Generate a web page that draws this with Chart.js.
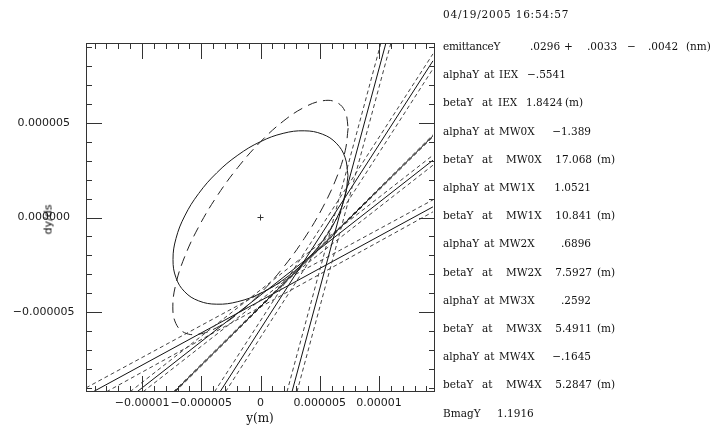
<!DOCTYPE html>
<html>
<head>
<meta charset="utf-8">
<script src="https://cdn.jsdelivr.net/npm/chart.js@4"></script>
<style>
  html, body { margin: 0; padding: 0; background: #fff; }
  #wrap { position: relative; width: 721px; height: 430px; overflow: hidden; }
  #plot { position: absolute; left: 0; top: 0; }
  .txt { position: absolute; white-space: pre; line-height: 14px; color: #111; }
  .panel { font: 10.5px "DejaVu Serif", serif; }
  .axis { font: 11px "DejaVu Sans", sans-serif; }
  .right { transform: translateX(-100%); }
</style>
</head>
<body>
<div id="wrap">
  <canvas id="plot" width="721" height="430"></canvas>
</div>
<script>
// y / dy/ds phase space at IEX, metres
const yRange = [-1.473e-5, 1.473e-5];
const ypRange = [-9.22e-6, 9.22e-6];
const xTickValues = [-1e-5, -5e-6, 0, 5e-6, 1e-5];
const xTickLabels = ['\u22120.00001', '\u22120.000005', '0', '0.000005', '0.00001'];
const yTickValues = [-5e-6, 0, 5e-6];
const yTickLabels = ['\u22120.000005', '0.000000', '0.000005'];

// fit results printed beside the plot
const stamp = '04/19/2005 16:54:57';
const emittance = [0.0296, 0.0033, 0.0042];   // value, +err, -err (nm)
const locations = ['IEX', 'MW0X', 'MW1X', 'MW2X', 'MW3X', 'MW4X'];
const alphaY = [-0.5541, -1.389, 1.0521, 0.6896, 0.2592, -0.1645];
const betaY = [1.8424, 17.068, 10.841, 7.5927, 5.4911, 5.2847];
const bmagY = 1.1916;

// measured ellipse (eps .0296 nm, alpha -.5541, beta 1.8424 m), [y, dy/ds]
const measuredEllipse = [
  [7.385e-6, 2.221e-6], [7.133e-6, 1.108e-6], [6.396e-6, -0.081e-6], [5.222e-6, -1.264e-6],
  [3.693e-6, -2.361e-6], [1.911e-6, -3.296e-6], [0, -4.008e-6], [-1.911e-6, -4.446e-6],
  [-3.693e-6, -4.581e-6], [-5.222e-6, -4.404e-6], [-6.396e-6, -3.927e-6], [-7.133e-6, -3.182e-6],
  [-7.385e-6, -2.221e-6], [-7.133e-6, -1.108e-6], [-6.396e-6, 0.081e-6], [-5.222e-6, 1.264e-6],
  [-3.693e-6, 2.361e-6], [-1.911e-6, 3.296e-6], [0, 4.008e-6], [1.911e-6, 4.446e-6],
  [3.693e-6, 4.581e-6], [5.222e-6, 4.404e-6], [6.396e-6, 3.927e-6], [7.133e-6, 3.182e-6],
  [7.385e-6, 2.221e-6]
];

// design ellipse, same emittance
const designEllipse = [
  [7.400e-6, 4.720e-6], [7.148e-6, 3.524e-6], [6.409e-6, 2.088e-6], [5.233e-6, 0.510e-6],
  [3.700e-6, -1.104e-6], [1.915e-6, -2.642e-6], [0, -4.000e-6], [-1.915e-6, -5.086e-6],
  [-3.700e-6, -5.824e-6], [-5.233e-6, -6.166e-6], [-6.409e-6, -6.088e-6], [-7.148e-6, -5.594e-6],
  [-7.400e-6, -4.720e-6], [-7.148e-6, -3.524e-6], [-6.409e-6, -2.088e-6], [-5.233e-6, -0.510e-6],
  [-3.700e-6, 1.104e-6], [-1.915e-6, 2.642e-6], [0, 4.000e-6], [1.915e-6, 5.086e-6],
  [3.700e-6, 5.824e-6], [5.233e-6, 6.166e-6], [6.409e-6, 6.088e-6], [7.148e-6, 5.594e-6],
  [7.400e-6, 4.720e-6]
];

const centre = [[0, 0]];

// wire-scanner lines mapped back to IEX: [low error, measured, high error]
const wireA = [
  [[2.236e-6, -9.21e-6], [10.169e-6, 9.226e-6]],
  [[2.658e-6, -9.21e-6], [10.591e-6, 9.226e-6]],
  [[3.080e-6, -9.21e-6], [11.013e-6, 9.226e-6]]
];
const wireB = [
  [[-3.882e-6, -9.21e-6], [14.557e-6, 8.645e-6]],
  [[-3.418e-6, -9.21e-6], [14.557e-6, 8.275e-6]],
  [[-2.954e-6, -9.21e-6], [14.557e-6, 7.853e-6]]
];
const wireC = [
  [[-7.354e-6, -9.21e-6], [14.557e-6, 4.368e-6]],
  [[-7.274e-6, -9.21e-6], [14.557e-6, 4.315e-6]],
  [[-7.194e-6, -9.21e-6], [14.557e-6, 4.262e-6]]
];
const wireD = [
  [[-11.013e-6, -9.21e-6], [14.557e-6, 3.290e-6]],
  [[-10.422e-6, -9.21e-6], [14.557e-6, 3.026e-6]],
  [[-9.916e-6, -9.21e-6], [14.557e-6, 2.762e-6]]
];
const wireE = [
  [[-14.726e-6, -9.000e-6], [14.557e-6, 0.932e-6]],
  [[-14.135e-6, -9.21e-6], [14.557e-6, 0.563e-6]],
  [[-13.004e-6, -9.21e-6], [14.557e-6, 0.298e-6]]
];

const ink = '#1a1a1a';
const toXY = pts => pts.map(p => ({ x: p[0], y: p[1] }));

const datasets = [
  { data: toXY(designEllipse), borderDash: [10, 6], tension: 0.4, borderColor: '#222' },
  { data: toXY(measuredEllipse), tension: 0.4 }
];
[wireA, wireB, wireC, wireD, wireE].forEach(w => {
  w.forEach((ln, i) => {
    datasets.push({
      data: toXY(ln),
      borderDash: i === 1 ? [] : [4, 3],
      borderColor: i === 1 ? '#111' : '#444'
    });
  });
});
datasets.forEach(d => {
  d.showLine = true;
  d.pointRadius = 0;
  d.borderColor = d.borderColor || ink;
  d.borderWidth = 1;
  d.tension = d.tension || 0;
});
datasets.push({
  data: toXY(centre), showLine: false, pointStyle: 'cross',
  pointRadius: 3, borderColor: '#333', borderWidth: 1
});

// frame plus inward ticks on all four sides
const frameTicks = {
  id: 'frameTicks',
  afterDatasetsDraw(chart) {
    const { ctx, chartArea: a, scales: { x, y } } = chart;
    ctx.save();
    ctx.strokeStyle = '#333';
    ctx.lineWidth = 1;
    ctx.strokeRect(a.left + 0.5, a.top + 0.5, a.right - a.left - 1, a.bottom - a.top - 1);
    ctx.beginPath();
    const step = 1e-6;
    for (let k = Math.ceil(x.min / step); k <= Math.floor(x.max / step); k++) {
      const px = Math.round(x.getPixelForValue(k * step)) + 0.5;
      const len = k % 5 === 0 ? 16 : 6;
      ctx.moveTo(px, a.bottom); ctx.lineTo(px, a.bottom - len);
      ctx.moveTo(px, a.top); ctx.lineTo(px, a.top + len);
    }
    for (let k = Math.ceil(y.min / step); k <= Math.floor(y.max / step); k++) {
      const py = Math.round(y.getPixelForValue(k * step)) + 0.5;
      const len = k % 5 === 0 ? 16 : 6;
      ctx.moveTo(a.left, py); ctx.lineTo(a.left + len, py);
      ctx.moveTo(a.right, py); ctx.lineTo(a.right - len, py);
    }
    ctx.stroke();
    ctx.restore();
  }
};

const tickFont = { family: 'DejaVu Sans', size: 11 };
const pick = (vals, labels) => v => {
  const i = vals.findIndex(t => Math.abs(t - v) < 1e-9);
  return i < 0 ? '' : labels[i];
};

new Chart(document.getElementById('plot'), {
  type: 'scatter',
  data: { datasets },
  options: {
    responsive: false,
    animation: false,
    layout: { padding: { left: 0, top: 43, right: 286, bottom: 0 } },
    plugins: { legend: { display: false }, tooltip: { enabled: false } },
    scales: {
      x: {
        type: 'linear', min: yRange[0], max: yRange[1], bounds: 'data',
        afterFit: s => { s.height = 38; },
        afterBuildTicks: s => { s.ticks = xTickValues.map(v => ({ value: v })); },
        grid: { display: false, drawTicks: false },
        border: { display: false },
        ticks: {
          autoSkip: false, maxRotation: 0, minRotation: 0, padding: 5,
          font: tickFont, color: ink, callback: pick(xTickValues, xTickLabels)
        }
      },
      y: {
        type: 'linear', min: ypRange[0], max: ypRange[1], bounds: 'data',
        afterFit: s => { s.width = 86; },
        afterBuildTicks: s => { s.ticks = yTickValues.map(v => ({ value: v })); },
        grid: { display: false, drawTicks: false },
        border: { display: false },
        ticks: {
          autoSkip: false, crossAlign: 'center', padding: 11.5,
          font: tickFont, color: ink, callback: pick(yTickValues, yTickLabels)
        }
      }
    }
  },
  plugins: [frameTicks]
});

// axis titles and the text column
const wrap = document.getElementById('wrap');
function put(text, x, y, cls, extra) {
  const el = document.createElement('div');
  el.className = 'txt ' + cls;
  el.textContent = text;
  el.style.left = x + 'px';
  el.style.top = (y - 7) + 'px';
  if (extra) Object.assign(el.style, extra);
  wrap.appendChild(el);
  return el;
}
const fmt = v => {
  let s = String(Math.abs(v));
  if (s.startsWith('0.')) s = s.slice(1);
  return (v < 0 ? '\u2212' : '') + s;
};

put('y(m)', 260, 418, 'panel', { transform: 'translateX(-50%)', fontSize: '12px' });
put('dy/ds', 48, 220, 'axis', { transform: 'translate(-50%, 0) rotate(-90deg)', color: '#000' });

const rowY = k => 47 + k * 28.2;
put(stamp, 443, 15, 'panel', { letterSpacing: '0.8px' });
put('emittanceY', 443, rowY(0), 'panel', { letterSpacing: '-0.3px' });
put(fmt(emittance[0]), 530, rowY(0), 'panel');
put('+', 564, rowY(0), 'panel');
put(fmt(emittance[1]), 587, rowY(0), 'panel');
put('\u2212', 627, rowY(0), 'panel');
put(fmt(emittance[2]), 648, rowY(0), 'panel');
put('(nm)', 686, rowY(0), 'panel');

locations.forEach((loc, i) => {
  const ya = rowY(1 + 2 * i), yb = rowY(2 + 2 * i);
  const first = i === 0;
  put('alphaY', 443, ya, 'panel');
  put('at', 484, ya, 'panel');
  put(loc, 499, ya, 'panel');
  put('betaY', 443, yb, 'panel');
  put('at', 482, yb, 'panel');
  put(loc, first ? 498 : 506, yb, 'panel');
  if (first) {
    put(fmt(alphaY[i]), 527, ya, 'panel');
    put(fmt(betaY[i]), 526, yb, 'panel');
    put('(m)', 565, yb, 'panel');
  } else {
    put(fmt(alphaY[i]), 591, ya, 'panel right');
    put(fmt(betaY[i]), 592, yb, 'panel right');
    put('(m)', 597, yb, 'panel');
  }
});
put('BmagY', 443, rowY(13), 'panel');
put(fmt(bmagY), 497, rowY(13), 'panel');
</script>
</body>
</html>
